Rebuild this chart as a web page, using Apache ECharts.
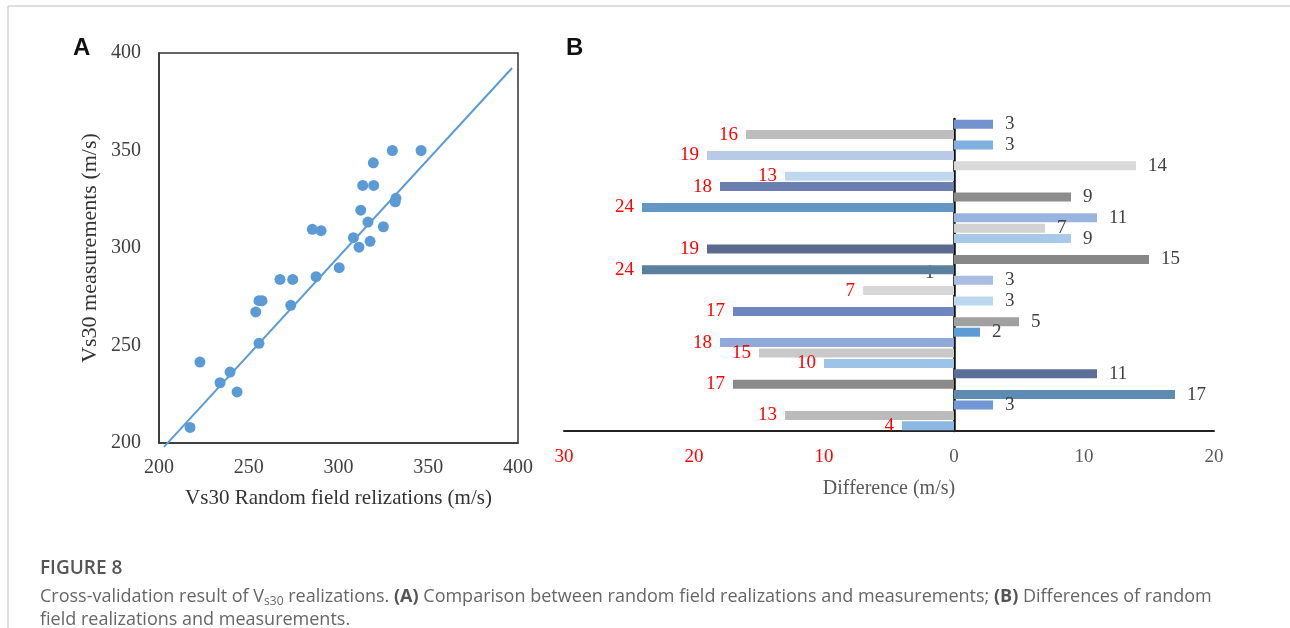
<!DOCTYPE html>
<html>
<head>
<meta charset="utf-8">
<script src="https://cdn.jsdelivr.net/npm/echarts@6/dist/echarts.min.js"></script>
<style>
  html, body { margin: 0; padding: 0; background: #fff; }
  #chart { width: 1290px; height: 628px; }
</style>
</head>
<body>
<div id="chart"></div>
<script>
// Panel A: random field realizations vs measurements
let realX = [330, 346, 319.4, 313.5, 319.6, 332, 331.6, 312.4, 316.4, 325,
  285.4, 290.3, 308.3, 317.6, 311.4, 300.4, 287.5, 267.4, 274.5, 255.7,
  257.4, 253.9, 273.4, 255.7, 222.8, 239.6, 234, 243.5, 217.3];
let measY = [350, 350, 343.7, 332.1, 332.1, 325.5, 323.7, 319.4, 313.3, 310.9,
  309.6, 308.9, 305.3, 303.4, 300.4, 289.9, 285.3, 283.9, 283.9, 273,
  273, 267.2, 270.6, 251.1, 241.5, 236.4, 230.9, 226.2, 208];
let fitX = [202.8, 396.7];
let fitY = [198, 392.3];

// Panel B: differences (negative = left side, red labels)
let diffValues = [3, -16, 3, -19, 14, -13, -18, 9, -24, 11,
  7, 9, -19, 15, -24, 3, -7, 3, -17, 5,
  2, -18, -15, -10, 11, -17, 17, 3, -13, -4];
let diffTicks = [-30, -20, -10, 0, 10, 20];

let barColors = ["#7393cf", "#bdbdbd", "#7fb0e0", "#b9cae7", "#d9d9d9", "#bfd8ef", "#6a7fae", "#8c8c8c", "#6496c4", "#9ab4e0",
  "#d2d2d2", "#a9c9ea", "#5b6b8f", "#878787", "#5c7f9e", "#a9bde3", "#d7d7d7", "#bdd7ee", "#6e86bf", "#a0a0a0",
  "#5e9bd5", "#90a9d9", "#c9c9c9", "#9dc3e6", "#5b6f98", "#8a8a8a", "#5e8bb1", "#7396d4", "#bbbbbb", "#8bb8e3"];

let serif = "'Liberation Serif', 'DejaVu Serif', serif";
let chart = echarts.init(document.getElementById("chart"));

let barData = diffValues.map(function (v, i) {
  return {
    value: v,
    itemStyle: { color: barColors[i] },
    label: {
      position: v < 0 ? "left" : "right",
      color: v < 0 ? "#ff0000" : "#404040",
      distance: v < 0 ? 8 : 12
    }
  };
});

let option = {
  animation: false,
  backgroundColor: "#fff",
  grid: [
    { left: 159, top: 53, width: 359, height: 390, show: true, borderColor: "#333", borderWidth: 1.5 },
    { left: 564, top: 119, width: 650, height: 312 }
  ],
  xAxis: [{
    gridIndex: 0, type: "value", min: 200, max: 400, interval: 50,
    name: "Vs30 Random field relizations (m/s)", nameLocation: "middle", nameGap: 45,
    nameTextStyle: { fontFamily: serif, fontSize: 21, color: "#333" },
    axisLine: { show: true, lineStyle: { color: "#333", width: 1.5 } },
    axisTick: { show: false }, splitLine: { show: false },
    axisLabel: { fontFamily: serif, fontSize: 20, color: "#404040", margin: 15 }
  }, {
    gridIndex: 1, type: "value", min: diffTicks[0], max: diffTicks[diffTicks.length - 1], interval: 10,
    name: "Difference (m/s)", nameLocation: "middle", nameGap: 48,
    nameTextStyle: { fontFamily: serif, fontSize: 20, color: "#595959" },
    axisLine: { show: true, onZero: false, lineStyle: { color: "#222", width: 2 } },
    axisTick: { show: false }, splitLine: { show: false },
    axisLabel: {
      fontFamily: serif, fontSize: 19, margin: 17,
      formatter: function (v) { return Math.abs(v); },
      color: function (v) { return v < 0 ? "#ff0000" : "#595959"; }
    }
  }],
  yAxis: [{
    gridIndex: 0, type: "value", min: 200, max: 400, interval: 50,
    name: "Vs30 measurements (m/s)", nameLocation: "middle", nameGap: 58,
    nameTextStyle: { fontFamily: serif, fontSize: 22, color: "#333" },
    axisLine: { show: true, lineStyle: { color: "#333", width: 1.5 } },
    axisTick: { show: false }, splitLine: { show: false },
    axisLabel: { fontFamily: serif, fontSize: 20, color: "#404040", margin: 18 }
  }, {
    gridIndex: 1, type: "category", inverse: true,
    data: diffValues.map(function (v, i) { return i + 1; }),
    axisLine: { onZero: true, lineStyle: { color: "#111", width: 2.5 } },
    axisTick: { show: false }, axisLabel: { show: false }, splitLine: { show: false }
  }],
  series: [{
    type: "scatter", xAxisIndex: 0, yAxisIndex: 0,
    symbolSize: 11,
    itemStyle: { color: "#5b9bd5", opacity: 1 },
    data: realX.map(function (x, i) { return [x, measY[i]]; }),
    z: 3
  }, {
    type: "line", xAxisIndex: 0, yAxisIndex: 0,
    showSymbol: false, clip: false,
    lineStyle: { color: "#5b9bd5", width: 2 },
    data: fitX.map(function (x, i) { return [x, fitY[i]]; }),
    z: 2
  }, {
    type: "bar", xAxisIndex: 1, yAxisIndex: 1,
    barWidth: 9,
    label: {
      show: true, fontFamily: serif, fontSize: 19,
      formatter: function (p) { return Math.abs(p.value); }
    },
    data: barData
  }],
  graphic: [
    { type: "line", shape: { x1: 8, y1: 6, x2: 1290, y2: 6 }, style: { stroke: "#d4d4d4", lineWidth: 1.5 } },
    { type: "line", shape: { x1: 8, y1: 6, x2: 8, y2: 628 }, style: { stroke: "#d4d4d4", lineWidth: 1.5 } },
    { type: "text", left: 73, top: 36, style: { text: "A", font: "bold 24px Arial, 'Liberation Sans', sans-serif", fill: "#111" } },
    { type: "text", left: 566, top: 36, style: { text: "B", font: "bold 24px Arial, 'Liberation Sans', sans-serif", fill: "#111" } },
    { type: "text", left: 925, top: 264, style: { text: "1", font: "19px " + serif, fill: "#404040" } },
    { type: "text", left: 40, top: 559, style: { text: "FIGURE 8", font: "600 19px 'Open Sans', sans-serif", fill: "#555" } },
    {
      type: "text", left: 40, top: 586,
      style: {
        text: "{a|Cross-validation result of V}{s|s30}{a| realizations. }{b|(A)}{a| Comparison between random field realizations and measurements; }{b|(B)}{a| Differences of random}\n{a|field realizations and measurements.}",
        rich: {
          a: { font: "18px 'Open Sans', sans-serif", fill: "#666", lineHeight: 23 },
          b: { font: "bold 18px 'Open Sans', sans-serif", fill: "#555", lineHeight: 23 },
          s: { font: "12px 'Open Sans', sans-serif", fill: "#666", lineHeight: 23, padding: [10, 0, 0, 0] }
        }
      }
    }
  ]
};

chart.setOption(option);
</script>
</body>
</html>
